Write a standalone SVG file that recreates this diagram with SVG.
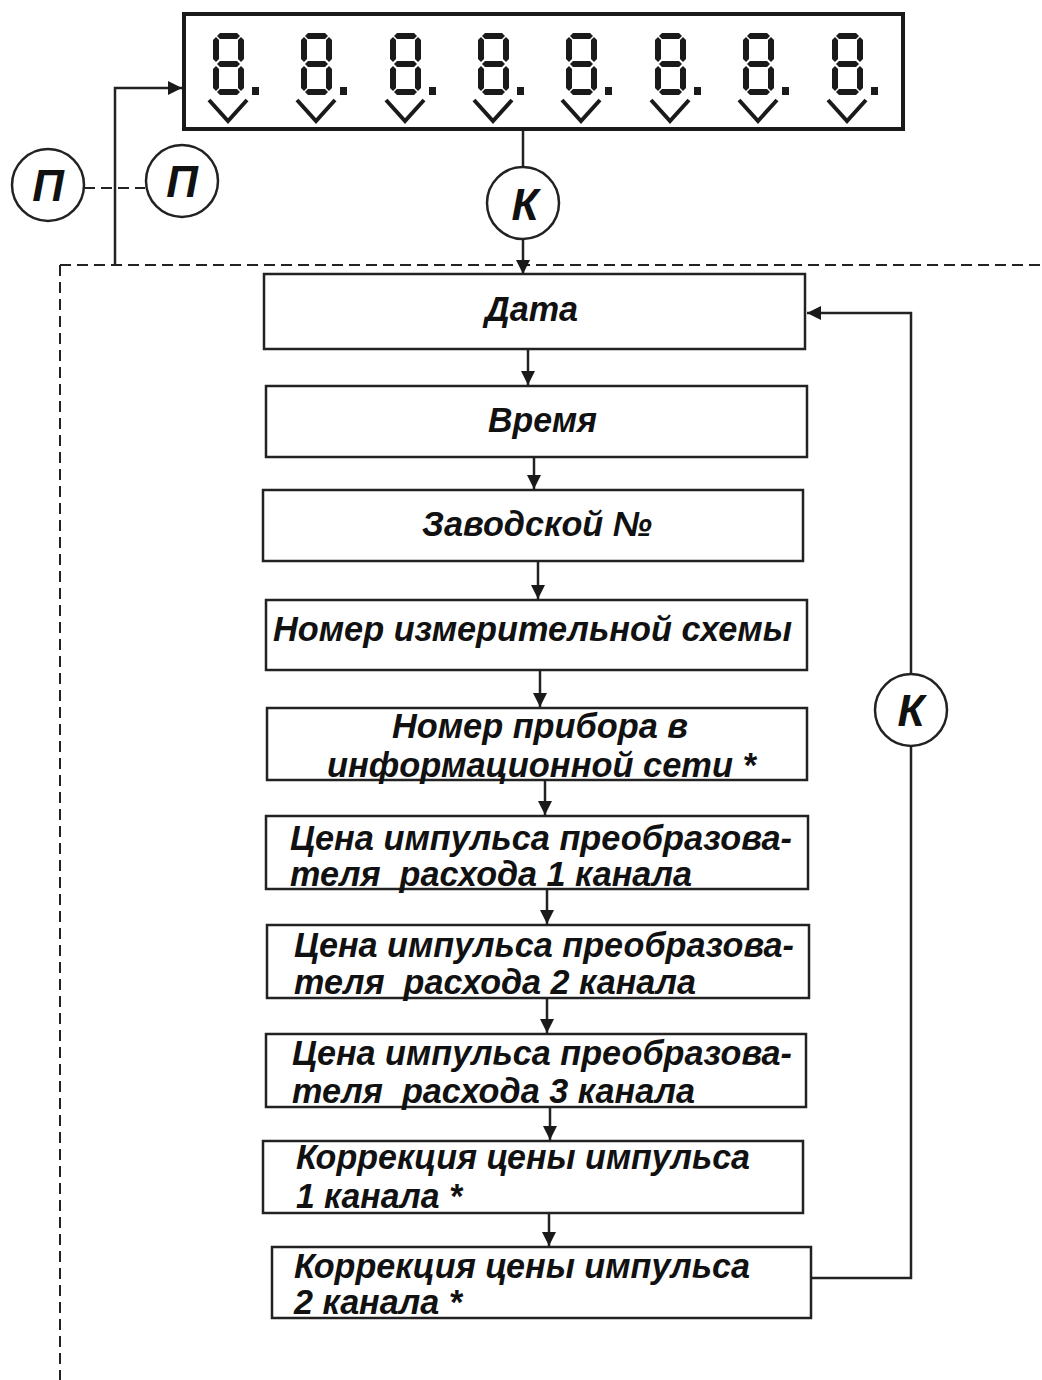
<svg xmlns="http://www.w3.org/2000/svg" xmlns:xlink="http://www.w3.org/1999/xlink" width="1042" height="1380" viewBox="0 0 1042 1380">
<style>
.box{fill:#fff;stroke:#222;stroke-width:2.5}
.ln{fill:none;stroke:#222;stroke-width:2.5}
.dash{fill:none;stroke:#222;stroke-width:2;stroke-dasharray:11 6}
.circ{fill:#fff;stroke:#222;stroke-width:2.5}
.t{font-family:"Liberation Sans",Arial,sans-serif;font-weight:bold;font-style:italic;font-size:35px;fill:#111}
.big{font-family:"Liberation Sans",Arial,sans-serif;font-weight:bold;font-style:italic;font-size:44px;fill:#111;text-anchor:middle}
.seg{fill:#1a1a1a}
.chev{fill:none;stroke:#1a1a1a;stroke-width:4}
</style>
<defs>
<marker id="ah" markerUnits="userSpaceOnUse" markerWidth="14" markerHeight="14" viewBox="0 0 14 14" refX="14" refY="7" orient="auto">
<path d="M0,0 L14,7 L0,14 Z" fill="#1a1a1a"/>
</marker>
<g id="digit">
<polygon class="seg" points="4,3 7,0 24,0 27,3 24,6 7,6"/>
<polygon class="seg" points="4,31 7,28 24,28 27,31 24,34 7,34"/>
<polygon class="seg" points="4,59 7,56 24,56 27,59 24,62 7,62"/>
<polygon class="seg" points="3,4 6,7 6,26 3,29 0,26 0,7"/>
<polygon class="seg" points="3,33 6,36 6,55 3,58 0,55 0,36"/>
<polygon class="seg" points="28,4 31,7 31,26 28,29 25,26 25,7"/>
<polygon class="seg" points="28,33 31,36 31,55 28,58 25,55 25,36"/>
<rect class="seg" x="39" y="54" width="7" height="8"/>
<polyline class="chev" points="-4,67 15,88 34,67"/>
</g>
</defs>
<rect width="1042" height="1380" fill="#fff"/>

<g id="display">
<rect x="184" y="14" width="719" height="115" fill="#fff" stroke="#1a1a1a" stroke-width="4"/>
<use xlink:href="#digit" x="213" y="33"/>
<use xlink:href="#digit" x="301" y="33"/>
<use xlink:href="#digit" x="390" y="33"/>
<use xlink:href="#digit" x="478" y="33"/>
<use xlink:href="#digit" x="566" y="33"/>
<use xlink:href="#digit" x="655" y="33"/>
<use xlink:href="#digit" x="743" y="33"/>
<use xlink:href="#digit" x="832" y="33"/>
</g>

<g id="connectors">
<line class="dash" x1="60" y1="265" x2="1042" y2="265"/>
<line class="dash" x1="60" y1="265" x2="60" y2="1380"/>
<line class="dash" x1="84" y1="188" x2="145" y2="188"/>
<polyline class="ln" points="115,265 115,88 182,88" marker-end="url(#ah)"/>
<line class="ln" x1="523" y1="130" x2="523" y2="167"/>
<line class="ln" x1="523" y1="239" x2="523" y2="274" marker-end="url(#ah)"/>
<line class="ln" x1="528" y1="349" x2="528" y2="385" marker-end="url(#ah)"/>
<line class="ln" x1="534" y1="457" x2="534" y2="489" marker-end="url(#ah)"/>
<line class="ln" x1="538" y1="561" x2="538" y2="599" marker-end="url(#ah)"/>
<line class="ln" x1="540" y1="670" x2="540" y2="707" marker-end="url(#ah)"/>
<line class="ln" x1="545" y1="780" x2="545" y2="815" marker-end="url(#ah)"/>
<line class="ln" x1="547" y1="889" x2="547" y2="924" marker-end="url(#ah)"/>
<line class="ln" x1="547" y1="998" x2="547" y2="1033" marker-end="url(#ah)"/>
<line class="ln" x1="550" y1="1107" x2="550" y2="1140" marker-end="url(#ah)"/>
<line class="ln" x1="549" y1="1213" x2="549" y2="1246" marker-end="url(#ah)"/>
<polyline class="ln" points="812,1278 911,1278 911,313 807,313" marker-end="url(#ah)"/>
</g>

<g id="p-left">
<circle class="circ" cx="48" cy="185" r="36"/>
<text class="big" x="48" y="201">П</text>
</g>
<g id="p-right">
<circle class="circ" cx="182" cy="181" r="36"/>
<text class="big" x="182" y="197">П</text>
</g>
<g id="k-top">
<circle class="circ" cx="523" cy="203" r="36"/>
<text class="big" x="525" y="220">К</text>
</g>
<g id="k-right">
<circle class="circ" cx="911" cy="710" r="36"/>
<text class="big" x="911" y="726">К</text>
</g>

<g id="n1">
<rect class="box" x="264" y="274" width="541" height="75"/>
<text class="t" x="485" y="321" textLength="93" lengthAdjust="spacingAndGlyphs">Дата</text>
</g>
<g id="n2">
<rect class="box" x="266" y="386" width="541" height="71"/>
<text class="t" x="488" y="432" textLength="109" lengthAdjust="spacingAndGlyphs">Время</text>
</g>
<g id="n3">
<rect class="box" x="263" y="490" width="540" height="71"/>
<text class="t" x="422" y="536" textLength="230" lengthAdjust="spacingAndGlyphs">Заводской №</text>
</g>
<g id="n4">
<rect class="box" x="266" y="600" width="541" height="70"/>
<text class="t" x="273" y="641" textLength="519" lengthAdjust="spacingAndGlyphs">Номер измерительной схемы</text>
</g>
<g id="n5">
<rect class="box" x="267" y="708" width="540" height="72"/>
<text class="t" x="392" y="738" textLength="296" lengthAdjust="spacingAndGlyphs">Номер прибора в</text>
<text class="t" x="327" y="777" textLength="429" lengthAdjust="spacingAndGlyphs">информационной сети *</text>
</g>
<g id="n6">
<rect class="box" x="266" y="816" width="542" height="73"/>
<text class="t" x="290" y="850" textLength="502" lengthAdjust="spacingAndGlyphs">Цена импульса преобразова-</text>
<text class="t" x="290" y="886" textLength="402" lengthAdjust="spacingAndGlyphs" xml:space="preserve">теля  расхода 1 канала</text>
</g>
<g id="n7">
<rect class="box" x="267" y="925" width="542" height="73"/>
<text class="t" x="294" y="957" textLength="500" lengthAdjust="spacingAndGlyphs">Цена импульса преобразова-</text>
<text class="t" x="294" y="994" textLength="402" lengthAdjust="spacingAndGlyphs" xml:space="preserve">теля  расхода 2 канала</text>
</g>
<g id="n8">
<rect class="box" x="266" y="1034" width="540" height="73"/>
<text class="t" x="292" y="1065" textLength="500" lengthAdjust="spacingAndGlyphs">Цена импульса преобразова-</text>
<text class="t" x="292" y="1103" textLength="403" lengthAdjust="spacingAndGlyphs" xml:space="preserve">теля  расхода 3 канала</text>
</g>
<g id="n9">
<rect class="box" x="263" y="1141" width="540" height="72"/>
<text class="t" x="296" y="1169" textLength="454" lengthAdjust="spacingAndGlyphs">Коррекция цены импульса</text>
<text class="t" x="296" y="1208" textLength="166" lengthAdjust="spacingAndGlyphs">1 канала *</text>
</g>
<g id="n10">
<rect class="box" x="272" y="1247" width="539" height="71"/>
<text class="t" x="294" y="1278" textLength="456" lengthAdjust="spacingAndGlyphs">Коррекция цены импульса</text>
<text class="t" x="294" y="1314" textLength="168" lengthAdjust="spacingAndGlyphs">2 канала *</text>
</g>
</svg>
